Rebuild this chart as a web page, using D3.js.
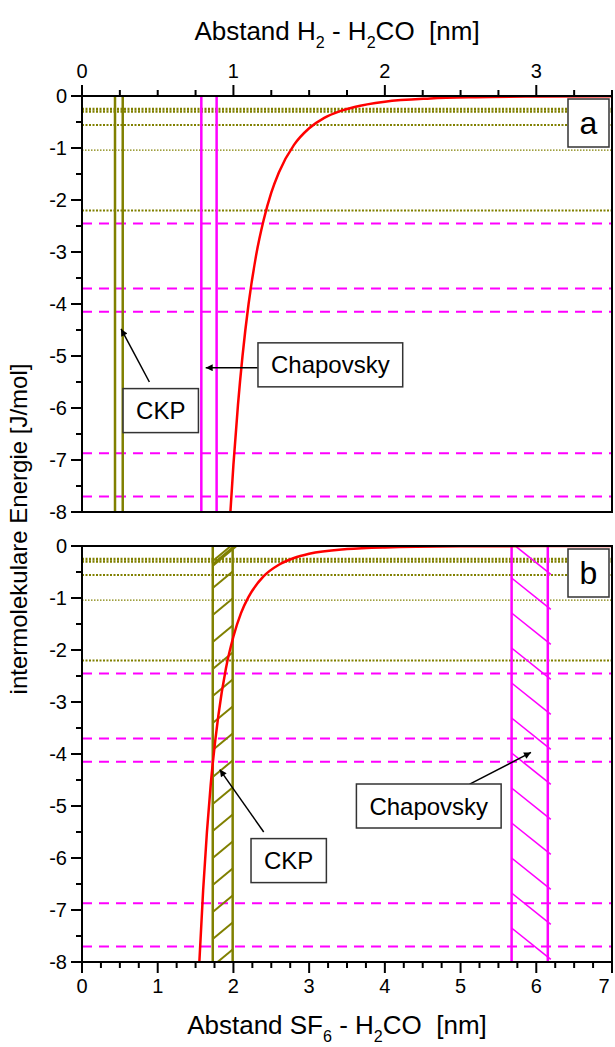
<!DOCTYPE html>
<html>
<head>
<meta charset="utf-8">
<script src="https://cdn.jsdelivr.net/npm/d3@7/dist/d3.min.js"></script>
<style>
  html, body { margin: 0; padding: 0; background: #fff; }
  svg { display: block; }
  text { font-family: "Liberation Sans", Arial, sans-serif; fill: #000; }
</style>
</head>
<body>
<div id="chart"></div>
<script>
// ---------------- data ----------------
const xTopTicks = [0, 1, 2, 3];                 // Abstand H2 - H2CO [nm]
const xBottomTicks = [0, 1, 2, 3, 4, 5, 6, 7];  // Abstand SF6 - H2CO [nm]
const yTicks = [0, -1, -2, -3, -4, -5, -6, -7, -8];
const yTickLabels = ["0", "-1", "-2", "-3", "-4", "-5", "-6", "-7", "-8"];

// energy levels (J/mol)
const oliveLevels = [-0.25, -0.30, -0.56, -1.04, -2.2];
const oliveLevelWidths = [2.5, 2.5, 2, 1.3, 2];
const magentaLevels = [-2.45, -3.7, -4.15, -6.87, -7.7];

// panel a: distances in H2 - H2CO units
const ckpA = [0.218, 0.269];
const chapovskyA = [0.788, 0.889];
// panel b: distances in SF6 - H2CO units
const ckpB = [1.727, 1.99];
const chapovskyB = [5.674, 6.152];

// interaction energy curve, panel a (H2 - H2CO)
const curveAx = [0.98, 1.0, 1.03, 1.06, 1.1, 1.15, 1.2, 1.25, 1.3, 1.4, 1.5, 1.6, 1.7, 1.8, 2.0, 2.3, 2.6, 3.0, 3.5];
const curveAy = [-8, -7.09, -5.94, -5.0, -4.0, -3.06, -2.38, -1.86, -1.47, -0.94, -0.62, -0.42, -0.295, -0.21, -0.11, -0.048, -0.023, -0.01, -0.004];
// interaction energy curve, panel b (SF6 - H2CO)
const curveBx = [1.55, 1.6, 1.65, 1.7, 1.8, 1.9, 2.0, 2.1, 2.2, 2.4, 2.6, 2.8, 3.0, 3.5, 4.0, 5.0, 6.0, 7.0];
const curveBy = [-8, -6.62, -5.5, -4.59, -3.27, -2.36, -1.74, -1.29, -0.98, -0.58, -0.36, -0.23, -0.15, -0.06, -0.027, -0.007, -0.002, -0.0005];

// annotations (data coordinates of each panel)
const annotA = [
  { text: "CKP", bx: 0.52, by: -6.05, tipX: 0.258, tipY: -4.48, fromX: 0.445, fromY: -5.5 },
  { text: "Chapovsky", bx: 1.64, by: -5.17, tipX: 0.817, tipY: -5.225, fromX: 1.16, fromY: -5.225 }
];
const annotB = [
  { text: "CKP", bx: 2.73, by: -6.05, tipX: 1.82, tipY: -4.3, fromX: 2.4, fromY: -5.5 },
  { text: "Chapovsky", bx: 4.58, by: -5.0, tipX: 5.93, tipY: -3.97, fromX: 5.12, fromY: -4.58 }
];

// ---------------- layout ----------------
const W = 615, H = 1047;
const left = 82, right = 612;
const panelA = { top: 96, bottom: 512 };
const panelB = { top: 546, bottom: 962 };
const olive = "#808000", magenta = "#ff00ff", red = "#ff0000";

const svg = d3.select("#chart").append("svg")
  .attr("width", W).attr("height", H);

const xBottom = d3.scaleLinear().domain([0, 7]).range([left, right]);
const xTop = d3.scaleLinear().domain([0, 3.5]).range([left, right]);
const yA = d3.scaleLinear().domain([0, -8]).range([panelA.top, panelA.bottom]);
const yB = d3.scaleLinear().domain([0, -8]).range([panelB.top, panelB.bottom]);

const defs = svg.append("defs");
defs.append("marker").attr("id", "arrow")
  .attr("viewBox", "0 0 10 10").attr("refX", 10).attr("refY", 5)
  .attr("markerWidth", 10).attr("markerHeight", 7).attr("markerUnits", "userSpaceOnUse")
  .attr("orient", "auto")
  .append("path").attr("d", "M0,0 L10,5 L0,10 Z").attr("fill", "#000");

function drawPanel(id, x, y, p, ckp, chap, hatched, cx, cy, annots, label) {
  defs.append("clipPath").attr("id", "clip" + id)
    .append("rect").attr("x", left).attr("y", p.top)
    .attr("width", right - left).attr("height", p.bottom - p.top);
  const g = svg.append("g").attr("clip-path", `url(#clip${id})`);

  // energy level lines
  g.selectAll(".ol").data(oliveLevels).enter().append("line")
    .attr("x1", left).attr("x2", right)
    .attr("y1", d => y(d)).attr("y2", d => y(d))
    .attr("stroke", olive)
    .attr("stroke-width", (d, i) => oliveLevelWidths[i])
    .attr("stroke-dasharray", (d, i) => oliveLevelWidths[i] < 1.5 ? "1.5,1.5" : "2,1.5");
  g.selectAll(".ml").data(magentaLevels).enter().append("line")
    .attr("x1", left).attr("x2", right)
    .attr("y1", d => y(d)).attr("y2", d => y(d))
    .attr("stroke", magenta).attr("stroke-width", 2)
    .attr("stroke-dasharray", "10,7");

  // vertical bounds
  g.selectAll(".ck").data(ckp).enter().append("line")
    .attr("x1", d => x(d)).attr("x2", d => x(d))
    .attr("y1", p.top).attr("y2", p.bottom)
    .attr("stroke", olive).attr("stroke-width", 2.5);
  g.selectAll(".ch").data(chap).enter().append("line")
    .attr("x1", d => x(d)).attr("x2", d => x(d))
    .attr("y1", p.top).attr("y2", p.bottom)
    .attr("stroke", magenta).attr("stroke-width", 2.5);

  if (hatched) {
    // olive hatch: lines rising to the right
    const oL = x(ckp[0]), oR = x(ckp[1]);
    const oSlope = 0.83, oStep = 27;
    for (let yy = 858 - oStep * 12; yy <= p.bottom + 30; yy += oStep) {
      g.append("line").attr("x1", oL).attr("y1", yy)
        .attr("x2", oR).attr("y2", yy - (oR - oL) * oSlope)
        .attr("stroke", olive).attr("stroke-width", 2);
    }
    // thick top stroke
    g.append("line").attr("x1", oL).attr("y1", p.top + 19)
      .attr("x2", oR + 4).attr("y2", p.top - 1)
      .attr("stroke", olive).attr("stroke-width", 3.5);
    // magenta hatch: lines falling to the right
    const mL = x(chap[0]), mR = x(chap[1]);
    const mSlope = 0.8, mStep = 35, ext = 3;
    for (let yy = 648 - mStep * 4; yy <= p.bottom + 10; yy += mStep) {
      g.append("line").attr("x1", mL).attr("y1", yy)
        .attr("x2", mR + ext).attr("y2", yy + (mR + ext - mL) * mSlope)
        .attr("stroke", magenta).attr("stroke-width", 1.6);
    }
  }

  // curve
  const pts = cx.map((d, i) => [d, cy[i]]);
  g.append("path").datum(pts)
    .attr("d", d3.line().x(d => x(d[0])).y(d => y(d[1])).curve(d3.curveMonotoneX))
    .attr("fill", "none").attr("stroke", red).attr("stroke-width", 2.5);

  // frame
  svg.append("rect").attr("x", left).attr("y", p.top)
    .attr("width", right - left).attr("height", p.bottom - p.top)
    .attr("fill", "none").attr("stroke", "#000").attr("stroke-width", 2);

  // left axis ticks
  const ax = svg.append("g");
  ax.selectAll(".yt").data(yTicks).enter().append("line")
    .attr("x1", left - 11).attr("x2", left)
    .attr("y1", d => y(d)).attr("y2", d => y(d))
    .attr("stroke", "#000").attr("stroke-width", 2);
  ax.selectAll(".ym").data(yTicks.slice(0, -1).map(d => d - 0.5)).enter().append("line")
    .attr("x1", left - 6).attr("x2", left)
    .attr("y1", d => y(d)).attr("y2", d => y(d))
    .attr("stroke", "#000").attr("stroke-width", 2);
  ax.selectAll(".yl").data(yTicks).enter().append("text")
    .attr("x", left - 15).attr("y", d => y(d))
    .attr("dy", "0.36em").attr("text-anchor", "end")
    .attr("font-size", 20).text((d, i) => yTickLabels[i]);

  // panel label
  svg.append("rect").attr("x", 568).attr("y", p.top + 3)
    .attr("width", 41).attr("height", 48)
    .attr("fill", "#fff").attr("stroke", "#333").attr("stroke-width", 1.5);
  svg.append("text").attr("x", 588.5).attr("y", p.top + 38)
    .attr("text-anchor", "middle").attr("font-size", 32).text(label);

  // annotations
  annots.forEach(a => {
    svg.append("line")
      .attr("x1", x(a.fromX)).attr("y1", y(a.fromY))
      .attr("x2", x(a.tipX)).attr("y2", y(a.tipY))
      .attr("stroke", "#000").attr("stroke-width", 1.5)
      .attr("marker-end", "url(#arrow)");
    const t = svg.append("text").attr("x", x(a.bx)).attr("y", y(a.by))
      .attr("dy", "0.36em").attr("text-anchor", "middle")
      .attr("font-size", 24).text(a.text);
    const bb = t.node().getBBox();
    svg.insert("rect", () => t.node())
      .attr("x", bb.x - 13).attr("y", y(a.by) - 22)
      .attr("width", bb.width + 26).attr("height", 44)
      .attr("fill", "#fff").attr("stroke", "#333").attr("stroke-width", 1.5);
  });
}

drawPanel("A", xTop, yA, panelA, ckpA, chapovskyA, false, curveAx, curveAy, annotA, "a");
drawPanel("B", xBottom, yB, panelB, ckpB, chapovskyB, true, curveBx, curveBy, annotB, "b");

// top axis (H2)
const topAx = svg.append("g");
const topMinor = d3.range(0, 3.5001, 0.25).filter(d => Math.abs(d - Math.round(d)) > 1e-6);
topAx.selectAll(".tm").data(xTopTicks).enter().append("line")
  .attr("x1", d => xTop(d)).attr("x2", d => xTop(d))
  .attr("y1", panelA.top - 11).attr("y2", panelA.top)
  .attr("stroke", "#000").attr("stroke-width", 2);
topAx.selectAll(".tn").data(topMinor).enter().append("line")
  .attr("x1", d => xTop(d)).attr("x2", d => xTop(d))
  .attr("y1", panelA.top - 6).attr("y2", panelA.top)
  .attr("stroke", "#000").attr("stroke-width", 2);
topAx.selectAll(".tl").data(xTopTicks).enter().append("text")
  .attr("x", d => xTop(d)).attr("y", panelA.top - 18)
  .attr("text-anchor", "middle").attr("font-size", 20).text(d => d);

// bottom axis (SF6)
const botAx = svg.append("g");
const botMinor = d3.range(0, 7.0001, 0.25).filter(d => Math.abs(d - Math.round(d)) > 1e-6);
botAx.selectAll(".bm").data(xBottomTicks).enter().append("line")
  .attr("x1", d => xBottom(d)).attr("x2", d => xBottom(d))
  .attr("y1", panelB.bottom).attr("y2", panelB.bottom + 11)
  .attr("stroke", "#000").attr("stroke-width", 2);
botAx.selectAll(".bn").data(botMinor).enter().append("line")
  .attr("x1", d => xBottom(d)).attr("x2", d => xBottom(d))
  .attr("y1", panelB.bottom).attr("y2", panelB.bottom + 6)
  .attr("stroke", "#000").attr("stroke-width", 2);
botAx.selectAll(".bl").data(xBottomTicks).enter().append("text")
  .attr("x", d => Math.min(xBottom(d), 604)).attr("y", panelB.bottom + 31)
  .attr("text-anchor", "middle").attr("font-size", 20).text(d => d);

// axis titles with subscripts
function titleWithSubs(parts, x, y, size) {
  const t = svg.append("text").attr("x", x).attr("y", y)
    .attr("text-anchor", "middle").attr("font-size", size);
  let lowered = false;
  const shift = size * 0.32;
  parts.forEach(p => {
    const ts = t.append("tspan").text(p.s);
    if (p.sub) {
      ts.attr("font-size", size * 0.62).attr("dy", lowered ? 0 : shift);
      lowered = true;
    } else {
      ts.attr("dy", lowered ? -shift : 0);
      lowered = false;
    }
  });
  return t;
}
titleWithSubs([{ s: "Abstand H" }, { s: "2", sub: true }, { s: " - H" }, { s: "2", sub: true }, { s: "CO\u00a0 [nm]" }], 337, 40, 26);
titleWithSubs([{ s: "Abstand SF" }, { s: "6", sub: true }, { s: " - H" }, { s: "2", sub: true }, { s: "CO\u00a0 [nm]" }], 337, 1034, 26);

svg.append("text")
  .attr("transform", `translate(27, 529) rotate(-90)`)
  .attr("text-anchor", "middle").attr("font-size", 24)
  .text("intermolekulare Energie [J/mol]");
</script>
</body>
</html>
